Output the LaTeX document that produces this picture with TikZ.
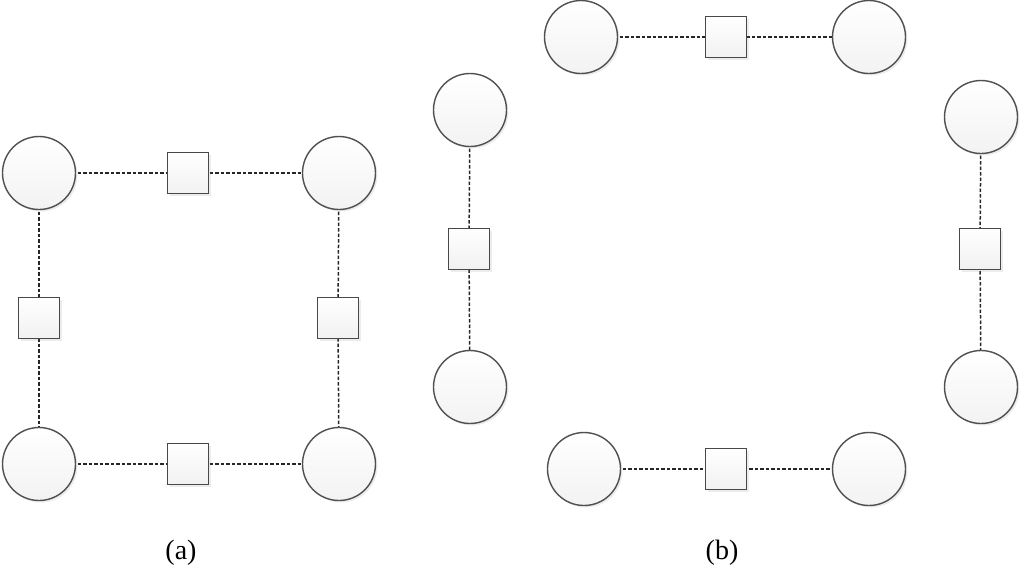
\documentclass[tikz,border=0pt]{standalone}
\usepackage{fontspec}
\setmainfont{Liberation Serif}
\usetikzlibrary{shadows}
\definecolor{edgegray}{HTML}{505050}
\definecolor{fillgray}{HTML}{E6E6E6}
\tikzset{
  bubble/.style={circle, draw=edgegray, line width=1.4pt, minimum size=73pt, inner sep=0pt,
    top color=white, bottom color=fillgray!50,
    drop shadow={opacity=0.15, shadow xshift=2pt, shadow yshift=-2pt}},
  boxnode/.style={rectangle, draw=edgegray!90!black, line width=1.5pt, minimum size=41pt, inner sep=0pt,
    top color=white, bottom color=fillgray!55,
    drop shadow={opacity=0.15, shadow xshift=2pt, shadow yshift=-2pt}},
  link/.style={draw=black!85, line width=1.5pt, dash pattern=on 3.5pt off 2pt},
  caption/.style={font=\fontsize{28}{32}\selectfont, inner sep=0pt}
}
\begin{document}
\begin{tikzpicture}[x=1pt,y=-1pt]
\useasboundingbox (0,0) rectangle (1024,571);
% (a)
\coordinate (aTLc) at (39,173);
\coordinate (aTRc) at (339,173);
\coordinate (aBLc) at (39,464);
\coordinate (aBRc) at (339,464);
\coordinate (aTc) at (188,173);
\coordinate (aLc) at (39,318);
\coordinate (aRc) at (338,318);
\coordinate (aBc) at (188,464);
% (b)
\coordinate (bT1c) at (581,37);
\coordinate (bTsc) at (726,37);
\coordinate (bT2c) at (869,37);
\coordinate (bL1c) at (470,110);
\coordinate (bLsc) at (469,249);
\coordinate (bL2c) at (470,387);
\coordinate (bR1c) at (981,117);
\coordinate (bRsc) at (980,249);
\coordinate (bR2c) at (981,387);
\coordinate (bB1c) at (584,469);
\coordinate (bBsc) at (726,469);
\coordinate (bB2c) at (869,469);

% connectors first (behind)
\path[link] (aTLc) -- (aTc) -- (aTRc);
\path[link] (aBLc) -- (aBc) -- (aBRc);
\path[link] (aTLc) -- (aLc) -- (aBLc);
\path[link] (aTRc) -- (aRc) -- (aBRc);
\path[link] (bT1c) -- (bTsc) -- (bT2c);
\path[link] (bB1c) -- (bBsc) -- (bB2c);
\path[link] (bL1c) -- (bLsc) -- (bL2c);
\path[link] (bR1c) -- (bRsc) -- (bR2c);

% nodes
\node[bubble] (aTL) at (aTLc) {};
\node[bubble] (aTR) at (aTRc) {};
\node[bubble] (aBL) at (aBLc) {};
\node[bubble] (aBR) at (aBRc) {};
\node[boxnode] (aT) at (aTc) {};
\node[boxnode] (aL) at (aLc) {};
\node[boxnode] (aR) at (aRc) {};
\node[boxnode] (aB) at (aBc) {};

\node[bubble] (bT1) at (bT1c) {};
\node[boxnode] (bTs) at (bTsc) {};
\node[bubble] (bT2) at (bT2c) {};
\node[bubble] (bL1) at (bL1c) {};
\node[boxnode] (bLs) at (bLsc) {};
\node[bubble] (bL2) at (bL2c) {};
\node[bubble] (bR1) at (bR1c) {};
\node[boxnode] (bRs) at (bRsc) {};
\node[bubble] (bR2) at (bR2c) {};
\node[bubble] (bB1) at (bB1c) {};
\node[boxnode] (bBs) at (bBsc) {};
\node[bubble] (bB2) at (bB2c) {};

\node[caption] (capa) at (181,553) {(a)};
\node[caption] (capb) at (722,553) {(b)};
\end{tikzpicture}
\end{document}
